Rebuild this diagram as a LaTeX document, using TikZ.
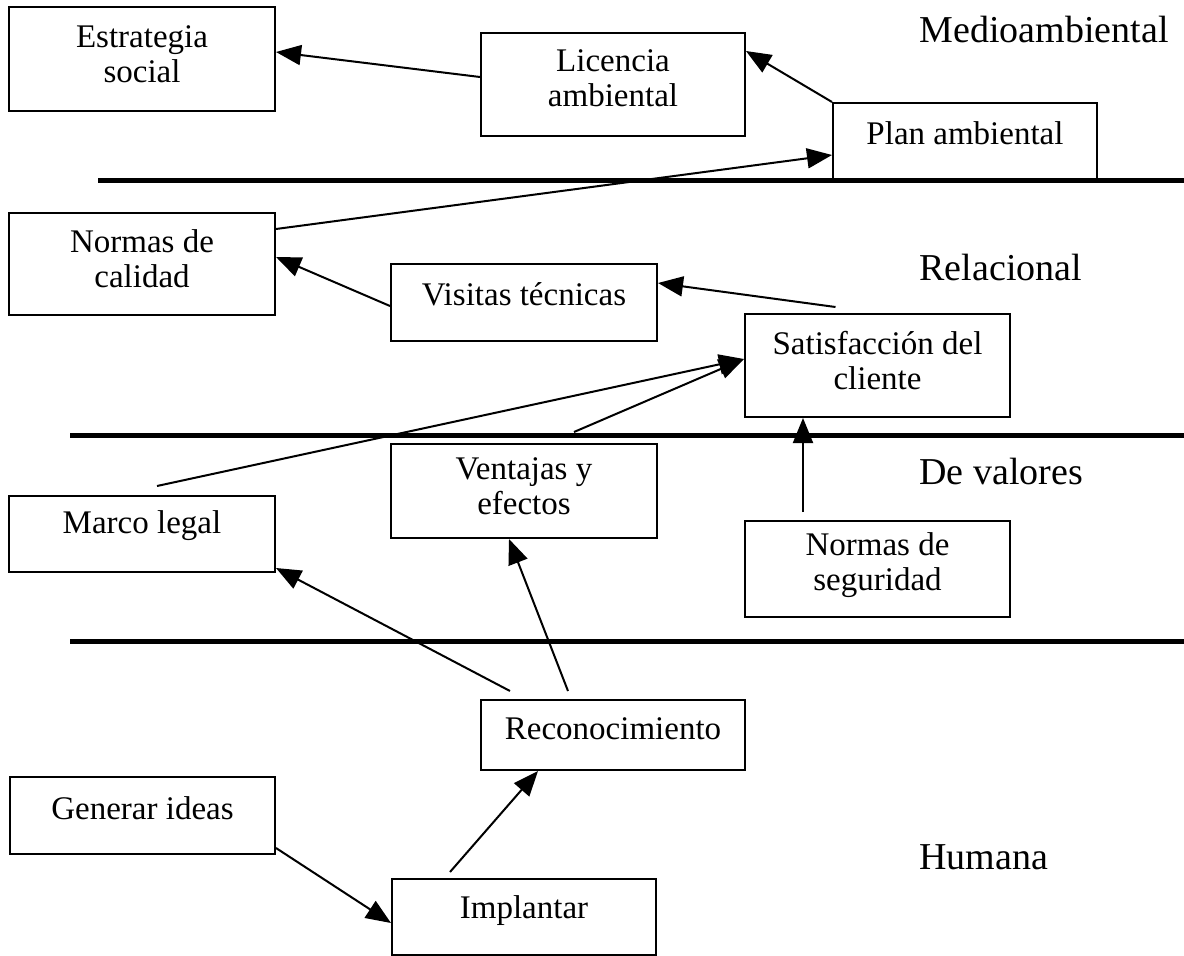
\documentclass[tikz,border=0pt]{standalone}
\usepackage{fontspec}
\setmainfont{Liberation Serif}
\usetikzlibrary{arrows.meta}

\begin{document}
\begin{tikzpicture}[x=1pt,y=-1pt,
  box/.style={draw,line width=2pt,inner sep=0pt},
  txt/.style={align=center,font=\fontsize{33}{35}\selectfont},
  lbl/.style={anchor=base west,font=\fontsize{38}{40}\selectfont},
  lane/.style={line width=5pt},
  arr/.style={line width=2pt,-{Triangle[length=25pt,width=20pt]}}]
  \useasboundingbox (0,0) rectangle (1184,956);
  % lanes
  \draw[lane] (98,180)--(1184,180);
  \draw[lane] (70,435)--(1184,435);
  \draw[lane] (70,641)--(1184,641);
  % boxes
  \node[box,minimum width=266pt,minimum height=104pt] (estr) at (142,59) {};
  \node[box,minimum width=264pt,minimum height=103pt] (lic) at (613,84.5) {};
  \node[box,minimum width=264pt,minimum height=77pt] (plan) at (965,141.5) {};
  \node[box,minimum width=266pt,minimum height=102pt] (ncal) at (142,264) {};
  \node[box,minimum width=266pt,minimum height=77pt] (vis) at (524,302.5) {};
  \node[box,minimum width=265pt,minimum height=103pt] (sat) at (877.5,365.5) {};
  \node[box,minimum width=266pt,minimum height=94pt] (vent) at (524,491) {};
  \node[box,minimum width=266pt,minimum height=76pt] (marco) at (142,534) {};
  \node[box,minimum width=265pt,minimum height=96pt] (nseg) at (877.5,569) {};
  \node[box,minimum width=264pt,minimum height=70pt] (rec) at (613,735) {};
  \node[box,minimum width=265pt,minimum height=77pt] (gen) at (142.5,815.5) {};
  \node[box,minimum width=264pt,minimum height=76pt] (impl) at (524,917) {};
  % texts
  \node[txt] (estr-t) at ([yshift=5pt]estr.center) {Estrategia\\social};
  \node[txt] (lic-t) at ([yshift=6pt]lic.center) {Licencia\\ambiental};
  \node[txt] (plan-t) at ([yshift=8pt]plan.center) {Plan ambiental};
  \node[txt] (ncal-t) at ([yshift=5pt]ncal.center) {Normas de\\calidad};
  \node[txt] (vis-t) at ([yshift=8pt]vis.center) {Visitas técnicas};
  \node[txt] (sat-t) at ([yshift=5pt]sat.center) {Satisfacción del\\cliente};
  \node[txt] (vent-t) at ([yshift=5pt]vent.center) {Ventajas y\\efectos};
  \node[txt] (marco-t) at ([yshift=8pt]marco.center) {Marco legal};
  \node[txt] (nseg-t) at ([yshift=4pt]nseg.center) {Normas de\\seguridad};
  \node[txt] (rec-t) at ([yshift=6pt]rec.center) {Reconocimiento};
  \node[txt] (gen-t) at ([yshift=7pt]gen.center) {Generar ideas};
  \node[txt] (impl-t) at ([yshift=6pt]impl.center) {Implantar};
  % lane labels
  \node[lbl] (medio) at (916,42) {Medioambiental};
  \node[lbl] (rel) at (916,280) {Relacional};
  \node[lbl] (val) at (916,484) {De valores};
  \node[lbl] (hum) at (916,869) {Humana};
  % arrows
  \draw[arr] ([yshift=7.5pt]lic.west) -- ([yshift=7pt]estr.east);
  \draw[arr] (plan.north west) -- ([yshift=-19pt]lic.north east);
  \draw[arr] ([yshift=-17pt]ncal.north east) -- ([yshift=-13.5pt]plan.west);
  \draw[arr] ([yshift=-3.5pt]vis.west) -- ([yshift=7pt]ncal.east);
  \draw[arr] ([xshift=-42pt,yshift=6pt]sat.north) -- ([yshift=19.5pt]vis.east);
  \draw[arr] ([xshift=15pt,yshift=9pt]marco.north) -- ([yshift=6.5pt]sat.west);
  \draw[arr] ([xshift=50pt,yshift=11pt]vent.north) -- ([yshift=6.5pt]sat.west);
  \draw[arr] ([xshift=-74.5pt,yshift=8pt]nseg.north) -- ([xshift=-74.5pt]sat.south);
  \draw[arr] ([xshift=-103pt,yshift=8pt]rec.north) -- ([yshift=5pt]marco.south east);
  \draw[arr] ([xshift=-45pt,yshift=8pt]rec.north) -- ([xshift=-15pt]vent.south);
  \draw[arr] ([xshift=-74pt,yshift=6pt]impl.north) -- ([xshift=-75pt]rec.south);
  \draw[arr] ([yshift=7pt]gen.south east) -- ([yshift=-6pt]impl.west);
\end{tikzpicture}
\end{document}
